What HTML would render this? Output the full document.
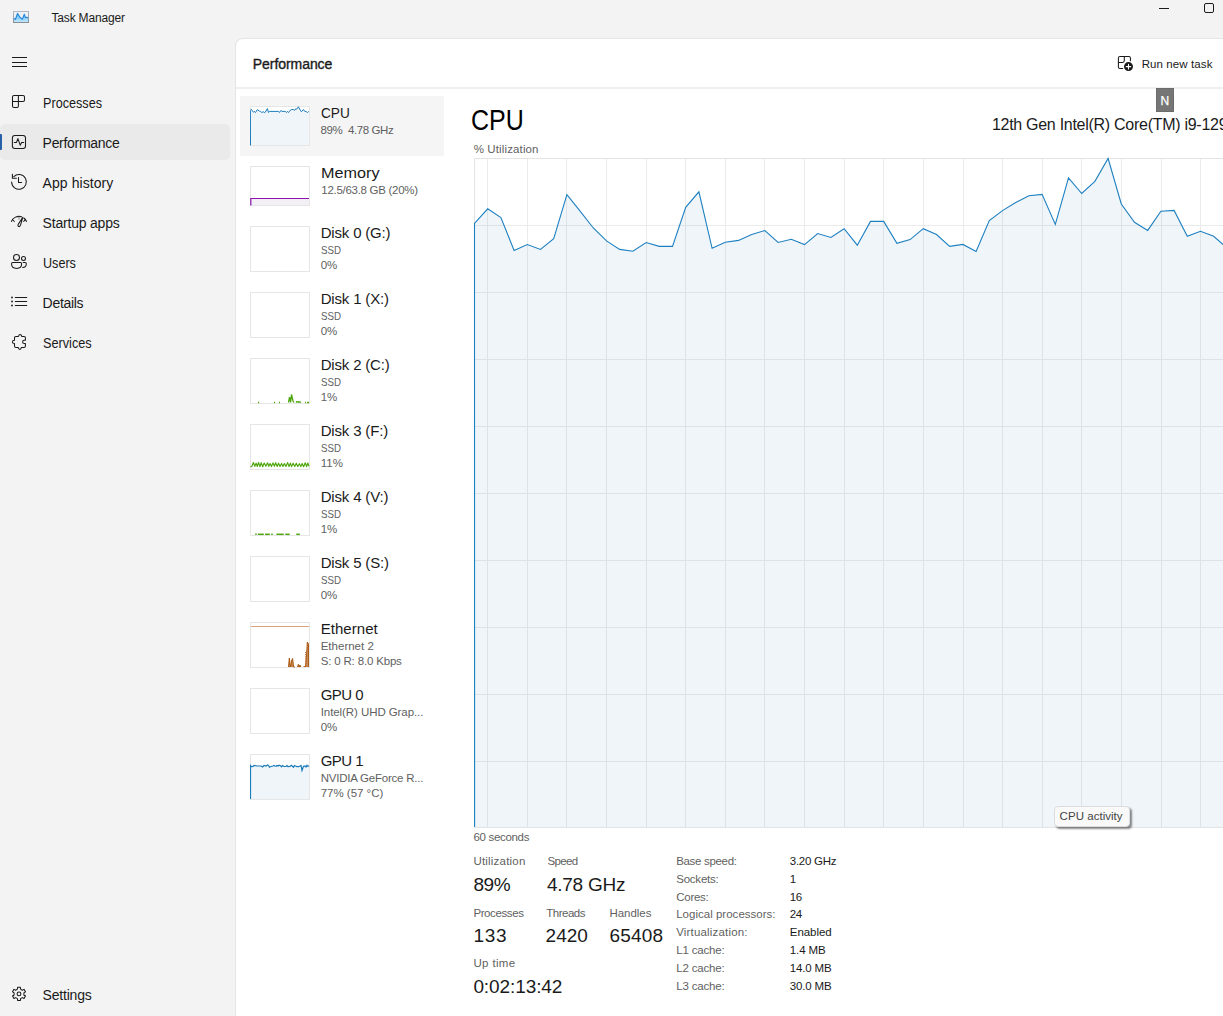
<!DOCTYPE html>
<html><head><meta charset="utf-8"><title>Task Manager</title>
<style>
*{margin:0;padding:0;box-sizing:border-box}
html,body{width:1223px;height:1016px;overflow:hidden;background:#f3f3f3;font-family:"Liberation Sans",sans-serif}
.abs{position:absolute}
.t{position:absolute;white-space:nowrap;line-height:normal}
</style></head><body>
<svg class="abs" style="left:13px;top:11px" width="16" height="12" viewBox="0 0 16 12">
<defs><linearGradient id="ig" x1="0" y1="0" x2="0" y2="1"><stop offset="0.2" stop-color="#6cbff2"/><stop offset="1" stop-color="#bfe8fd"/></linearGradient>
<linearGradient id="ib" x1="0" y1="0" x2="0" y2="1"><stop offset="0" stop-color="#b3bcc6"/><stop offset="1" stop-color="#868c93"/></linearGradient></defs>
<rect x="0" y="0" width="16" height="12" fill="url(#ib)"/>
<rect x="1" y="1" width="14" height="10" fill="#eef1f4"/>
<path d="M1,7.3 L2.4,8.5 L4.5,2.4 L6,4.8 L7.1,6.5 L9.4,8.2 L11.3,3.2 L12.3,6.4 L13.7,6.4 L15,6.7 L15,11 L1,11Z" fill="url(#ig)"/>
<path d="M1,7.3 L2.4,8.5 L4.5,2.4 L6,4.8 L7.1,6.5 L9.4,8.2 L11.3,3.2 L12.3,6.4 L13.7,6.4 L15,6.7" fill="none" stroke="#2587dc" stroke-width="1.1" stroke-linejoin="round"/>
</svg>
<div class="t" style="left:51.5px;top:11px;font-size:12px;color:#1a1a1a;letter-spacing:-0.178px;">Task Manager</div>
<div class="abs" style="left:1159px;top:8px;width:10px;height:1px;background:#1a1a1a"></div>
<div class="abs" style="left:1204px;top:3px;width:10px;height:10px;border:1px solid #1a1a1a;border-radius:2px"></div>
<div class="abs" style="left:11.5px;top:57px;width:15px;height:1px;background:#1a1a1a"></div><div class="abs" style="left:11.5px;top:61.5px;width:15px;height:1px;background:#1a1a1a"></div><div class="abs" style="left:11.5px;top:66px;width:15px;height:1px;background:#1a1a1a"></div>
<div class="abs" style="left:0;top:124px;width:230px;height:36px;background:#eaeaea;border-radius:5px"></div>
<div class="abs" style="left:0;top:134px;width:2px;height:16px;background:#275fa9;border-radius:0 1px 1px 0"></div>
<div class="t" style="left:42.6px;top:95px;font-size:14px;color:#1a1a1a;transform:scaleX(0.9029);transform-origin:0 0;">Processes</div>
<div class="t" style="left:42.6px;top:135px;font-size:14px;color:#1a1a1a;letter-spacing:-0.301px;">Performance</div>
<div class="t" style="left:42.6px;top:175px;font-size:14px;color:#1a1a1a;letter-spacing:0.068px;">App history</div>
<div class="t" style="left:42.6px;top:215px;font-size:14px;color:#1a1a1a;letter-spacing:-0.205px;">Startup apps</div>
<div class="t" style="left:42.6px;top:255px;font-size:14px;color:#1a1a1a;transform:scaleX(0.9002);transform-origin:0 0;">Users</div>
<div class="t" style="left:42.6px;top:295px;font-size:14px;color:#1a1a1a;letter-spacing:-0.297px;">Details</div>
<div class="t" style="left:42.6px;top:335px;font-size:14px;color:#1a1a1a;transform:scaleX(0.9074);transform-origin:0 0;">Services</div>
<div class="t" style="left:42.6px;top:987px;font-size:14px;color:#1a1a1a;letter-spacing:-0.197px;">Settings</div>
<svg class="abs" style="left:0;top:0" width="40" height="1016" viewBox="0 0 40 1016" fill="none" stroke="#1a1a1a" stroke-width="1.05" stroke-linecap="round" stroke-linejoin="round">
<path d="M12.5,97 Q12.5,95.4 14,95.4 H23 Q24.5,95.4 24.5,97 V100 Q24.5,101.4 23,101.4 H18.4 V106 Q18.4,107.5 17,107.5 H14 Q12.5,107.5 12.5,106 Z M18.4,95.4 V101.4 M12.5,101.4 H18.4"/>
<rect x="12.4" y="135.4" width="13.1" height="13" rx="2.4"/>
<path d="M14.3,142.4 H16.5 L17.9,138.6 L20.2,145.2 L21.6,142.4 H23.7"/>
<path d="M11.6,182 A7.4,7.4 0 1 0 13.8,176.6"/>
<path d="M12.4,174.3 V178.3 H16.4"/>
<path d="M18.5,177.4 V182.5 H21.6"/>
<path d="M11.4,221.4 A8.2,8.2 0 0 1 21.5,216.8 M23.8,218.0 A8.2,8.2 0 0 1 26.5,221.4"/>
<path d="M12.5,219.7 L14.3,221.5 M25.4,219.6 L23.7,221.5"/>
<path d="M19,217 V219.3" stroke="#888"/>
<path d="M22.8,217.3 L18.2,224.4 Q17.5,226.3 18.9,226.6 Q20.2,226.7 20.6,224.9 L22.8,217.3 Z"/>
<circle cx="16.5" cy="257.4" r="3.0"/>
<circle cx="23.5" cy="258.5" r="2.0"/>
<path d="M12.6,262.5 H20.6 Q21.6,262.5 21.6,263.6 V264.3 Q21.6,268.4 16.6,268.4 Q11.6,268.4 11.6,264.3 V263.6 Q11.6,262.5 12.6,262.5 Z"/>
<path d="M23.2,262.5 H25.2 Q26.3,262.5 26.3,263.8 Q26.3,267.5 22.6,267.5"/>
<path d="M15.3,297.5 H26.7 M15.3,301.5 H26.7 M15.3,305.5 H26.7"/>
<path d="M14.5,337.8 Q14.5,336.4 15.9,336.4 H18.3 L19.2,334.9 Q20.2,333.9 21.1,334.9 L21.9,336.4 H24 Q25.4,336.4 25.4,337.8 V340.3 H24.2 Q22.6,340.3 22.6,341.9 Q22.6,343.4 24.2,343.4 H25.4 V346 Q25.4,347.4 24,347.4 H21.6 L20.7,348.8 Q19.8,349.8 18.9,348.8 L18,347.4 H15.9 Q14.5,347.4 14.5,346 V343.4 Q12.4,343.4 12.4,341.9 Q12.4,340.3 14.5,340.3 Z"/>
<path d="M17.45,989.14 L17.59,987.25 L20.41,987.25 L20.55,989.14 L22.35,990.18 L24.05,989.35 L25.47,991.80 L23.89,992.86 L23.89,994.94 L25.47,996.00 L24.05,998.45 L22.35,997.62 L20.55,998.66 L20.41,1000.55 L17.59,1000.55 L17.45,998.66 L15.65,997.62 L13.95,998.45 L12.53,996.00 L14.11,994.94 L14.11,992.86 L12.53,991.80 L13.95,989.35 L15.65,990.18 Z"/>
<circle cx="19" cy="993.9" r="1.9"/>
</svg>
<svg class="abs" style="left:0;top:0" width="40" height="1016" viewBox="0 0 40 1016"><g fill="#1a1a1a"><circle cx="12" cy="297.5" r="0.9"/><circle cx="12" cy="301.5" r="0.9"/><circle cx="12" cy="305.5" r="0.9"/></g></svg>
<div class="abs" style="left:235px;top:38px;width:1000px;height:1000px;background:#fff;border-left:1px solid #e5e5e5;border-top:1px solid #e5e5e5;border-top-left-radius:8px"></div>
<div class="abs" style="left:236px;top:87px;width:1000px;height:2px;background:#efefef"></div>
<div class="t" style="left:252.8px;top:56px;font-size:14px;color:#1a1a1a;letter-spacing:-0.061px;-webkit-text-stroke:0.35px #1a1a1a;">Performance</div>
<svg class="abs" style="left:1110px;top:50px" width="30" height="25" viewBox="1110 50 30 25" fill="none" stroke="#1a1a1a" stroke-width="1.05" stroke-linecap="round" stroke-linejoin="round">
<path d="M1122.7,68.5 H1120 Q1118.4,68.5 1118.4,67 V58 Q1118.4,56.4 1120,56.4 H1129 Q1130.4,56.4 1130.4,58 V60.8"/>
<path d="M1124.3,56.4 V60.6 Q1124.3,62.4 1122.6,62.4 H1118.4"/>
<circle cx="1128.5" cy="66.6" r="4.5" fill="#1a1a1a" stroke="none"/>
<path d="M1126.2,66.6 H1130.8 M1128.5,64.3 V68.9" stroke="#fff"/>
</svg>
<div class="t" style="left:1141.7px;top:58px;font-size:11.5px;color:#1a1a1a;letter-spacing:0.096px;">Run new task</div>
<div class="abs" style="left:240px;top:96px;width:204px;height:60px;background:#f5f5f5"></div>
<svg class="abs" style="left:0;top:0" width="1223" height="1016" viewBox="0 0 1223 1016">
<line x1="474" y1="225.5" x2="1223" y2="225.5" stroke="#ebebeb" stroke-width="1"/>
<line x1="474" y1="292.5" x2="1223" y2="292.5" stroke="#ebebeb" stroke-width="1"/>
<line x1="474" y1="359.5" x2="1223" y2="359.5" stroke="#ebebeb" stroke-width="1"/>
<line x1="474" y1="426.5" x2="1223" y2="426.5" stroke="#ebebeb" stroke-width="1"/>
<line x1="474" y1="493.5" x2="1223" y2="493.5" stroke="#ebebeb" stroke-width="1"/>
<line x1="474" y1="560.5" x2="1223" y2="560.5" stroke="#ebebeb" stroke-width="1"/>
<line x1="474" y1="627.5" x2="1223" y2="627.5" stroke="#ebebeb" stroke-width="1"/>
<line x1="474" y1="694.5" x2="1223" y2="694.5" stroke="#ebebeb" stroke-width="1"/>
<line x1="474" y1="761.5" x2="1223" y2="761.5" stroke="#ebebeb" stroke-width="1"/>
<line x1="487.5" y1="158" x2="487.5" y2="827" stroke="#ebebeb" stroke-width="1"/>
<line x1="527.5" y1="158" x2="527.5" y2="827" stroke="#ebebeb" stroke-width="1"/>
<line x1="566.5" y1="158" x2="566.5" y2="827" stroke="#ebebeb" stroke-width="1"/>
<line x1="606.5" y1="158" x2="606.5" y2="827" stroke="#ebebeb" stroke-width="1"/>
<line x1="646.5" y1="158" x2="646.5" y2="827" stroke="#ebebeb" stroke-width="1"/>
<line x1="685.5" y1="158" x2="685.5" y2="827" stroke="#ebebeb" stroke-width="1"/>
<line x1="725.5" y1="158" x2="725.5" y2="827" stroke="#ebebeb" stroke-width="1"/>
<line x1="764.5" y1="158" x2="764.5" y2="827" stroke="#ebebeb" stroke-width="1"/>
<line x1="804.5" y1="158" x2="804.5" y2="827" stroke="#ebebeb" stroke-width="1"/>
<line x1="844.5" y1="158" x2="844.5" y2="827" stroke="#ebebeb" stroke-width="1"/>
<line x1="883.5" y1="158" x2="883.5" y2="827" stroke="#ebebeb" stroke-width="1"/>
<line x1="923.5" y1="158" x2="923.5" y2="827" stroke="#ebebeb" stroke-width="1"/>
<line x1="963.5" y1="158" x2="963.5" y2="827" stroke="#ebebeb" stroke-width="1"/>
<line x1="1002.5" y1="158" x2="1002.5" y2="827" stroke="#ebebeb" stroke-width="1"/>
<line x1="1042.5" y1="158" x2="1042.5" y2="827" stroke="#ebebeb" stroke-width="1"/>
<line x1="1081.5" y1="158" x2="1081.5" y2="827" stroke="#ebebeb" stroke-width="1"/>
<line x1="1121.5" y1="158" x2="1121.5" y2="827" stroke="#ebebeb" stroke-width="1"/>
<line x1="1161.5" y1="158" x2="1161.5" y2="827" stroke="#ebebeb" stroke-width="1"/>
<line x1="1200.5" y1="158" x2="1200.5" y2="827" stroke="#ebebeb" stroke-width="1"/>
<path d="M1223,158.5 H474.5 V827.5 H1223" fill="none" stroke="#e4e4e4"/>
<polygon points="474.5,827 474.5,223.4 487.7,208.8 500.9,217.5 514.1,250.5 527.3,244.6 540.5,249.4 553.7,238.6 566.9,194.7 580.1,211.1 593.3,228.0 606.5,240.9 619.7,249.4 632.9,251.3 646.1,242.5 659.3,246.4 672.5,246.4 685.7,207.4 698.9,191.8 712.1,248.3 725.3,242.3 738.5,240.4 751.7,234.5 764.9,230.5 778.1,242.5 791.3,239.3 804.5,244.6 817.7,233.5 830.9,237.5 844.1,228.7 857.3,245.2 870.5,221.4 883.7,221.4 896.9,243.3 910.1,239.6 923.3,228.7 936.5,234.5 949.7,246.4 962.9,244.4 976.1,251.4 989.3,220.6 1002.5,210.6 1015.7,202.5 1028.9,195.7 1042.1,194.4 1055.3,224.5 1068.5,177.9 1081.7,193.5 1094.9,181.3 1108.1,158.5 1121.3,204.0 1134.5,222.3 1147.7,230.4 1160.9,211.3 1174.1,210.4 1187.3,236.3 1200.5,231.3 1213.7,236.3 1226.9,248.0 1226.9,827" fill="rgba(5,88,172,0.06)"/>
<polyline points="474.6,827 474.5,223.4 487.7,208.8 500.9,217.5 514.1,250.5 527.3,244.6 540.5,249.4 553.7,238.6 566.9,194.7 580.1,211.1 593.3,228.0 606.5,240.9 619.7,249.4 632.9,251.3 646.1,242.5 659.3,246.4 672.5,246.4 685.7,207.4 698.9,191.8 712.1,248.3 725.3,242.3 738.5,240.4 751.7,234.5 764.9,230.5 778.1,242.5 791.3,239.3 804.5,244.6 817.7,233.5 830.9,237.5 844.1,228.7 857.3,245.2 870.5,221.4 883.7,221.4 896.9,243.3 910.1,239.6 923.3,228.7 936.5,234.5 949.7,246.4 962.9,244.4 976.1,251.4 989.3,220.6 1002.5,210.6 1015.7,202.5 1028.9,195.7 1042.1,194.4 1055.3,224.5 1068.5,177.9 1081.7,193.5 1094.9,181.3 1108.1,158.5 1121.3,204.0 1134.5,222.3 1147.7,230.4 1160.9,211.3 1174.1,210.4 1187.3,236.3 1200.5,231.3 1213.7,236.3 1226.9,248.0" fill="none" stroke="#1d80c0" stroke-width="1.1" stroke-linejoin="miter"/>
</svg><svg class="abs" style="left:250px;top:106px" width="60" height="40" viewBox="0 0 60 40"><rect x="0.5" y="0.5" width="59" height="39" fill="#fff" stroke="#e6e6e6"/><polygon points="0.5,39 0.4,4.3 1.3,3.3 3.5,6.3 4.3,5.4 5.5,6.5 7.4,3.6 9.3,5.1 10.5,5.4 11.8,6.5 13.2,5.7 14.3,6.5 15.2,6.3 17.4,2.6 18.5,6.5 19.4,5.4 28.5,5.4 29.4,6.5 30.8,4.5 32.1,5.4 35.2,5.4 36.6,6.5 37.4,5.4 38.5,6.5 39.9,4.6 41.6,3.5 43.3,3.5 44.7,4.3 45.8,2.6 46.6,3.2 48.5,0.8 49.7,3.2 51.3,5.7 53.5,3.6 54.4,5.1 56.3,5.7 57.4,6.5 58.8,5.4 59,39" fill="#f0f5fa"/><polyline points="0.5,39.5 0.4,4.3 1.3,3.3 3.5,6.3 4.3,5.4 5.5,6.5 7.4,3.6 9.3,5.1 10.5,5.4 11.8,6.5 13.2,5.7 14.3,6.5 15.2,6.3 17.4,2.6 18.5,6.5 19.4,5.4 28.5,5.4 29.4,6.5 30.8,4.5 32.1,5.4 35.2,5.4 36.6,6.5 37.4,5.4 38.5,6.5 39.9,4.6 41.6,3.5 43.3,3.5 44.7,4.3 45.8,2.6 46.6,3.2 48.5,0.8 49.7,3.2 51.3,5.7 53.5,3.6 54.4,5.1 56.3,5.7 57.4,6.5 58.8,5.4" fill="none" stroke="#1a7bbb" stroke-width="1"/></svg>
<div class="t" style="left:320.5px;top:103.5px;font-size:15px;color:#1a1a1a;transform:scaleX(0.9098);transform-origin:0 0;">CPU</div>
<div class="t" style="left:320.5px;top:124px;font-size:11.5px;color:#5f5f5f;letter-spacing:-0.350px;">89%</div>
<div class="t" style="left:348px;top:124px;font-size:11.5px;color:#5f5f5f;letter-spacing:-0.421px;">4.78 GHz</div>
<svg class="abs" style="left:250px;top:166px" width="60" height="40" viewBox="0 0 60 40"><rect x="0.5" y="0.5" width="59" height="39" fill="#fff" stroke="#e6e6e6"/><rect x="1" y="32.5" width="58" height="6.5" fill="#f2f0f4"/><polyline points="0.8,39.5 0.8,32.5 59,32.5" fill="none" stroke="#8b12ae" stroke-width="1.2"/></svg>
<div class="t" style="left:320.5px;top:163.5px;font-size:15px;color:#1a1a1a;transform:scaleX(1.0796);transform-origin:0 0;">Memory</div>
<div class="t" style="left:321.3px;top:184px;font-size:11.5px;color:#5f5f5f;letter-spacing:-0.285px;">12.5/63.8 GB (20%)</div>
<svg class="abs" style="left:250px;top:226px" width="60" height="46" viewBox="0 0 60 46"><rect x="0.5" y="0.5" width="59" height="45" fill="#fff" stroke="#e6e6e6"/></svg>
<div class="t" style="left:320.7px;top:224px;font-size:15px;color:#1a1a1a;letter-spacing:-0.179px;">Disk 0 (G:)</div>
<div class="t" style="left:320.7px;top:244px;font-size:11.5px;color:#5f5f5f;transform:scaleX(0.8454);transform-origin:0 0;">SSD</div>
<div class="t" style="left:320.7px;top:259px;font-size:11.5px;color:#5f5f5f;">0%</div>
<svg class="abs" style="left:250px;top:292px" width="60" height="46" viewBox="0 0 60 46"><rect x="0.5" y="0.5" width="59" height="45" fill="#fff" stroke="#e6e6e6"/></svg>
<div class="t" style="left:320.7px;top:290px;font-size:15px;color:#1a1a1a;letter-spacing:-0.175px;">Disk 1 (X:)</div>
<div class="t" style="left:320.7px;top:310px;font-size:11.5px;color:#5f5f5f;transform:scaleX(0.8454);transform-origin:0 0;">SSD</div>
<div class="t" style="left:320.7px;top:325px;font-size:11.5px;color:#5f5f5f;">0%</div>
<svg class="abs" style="left:250px;top:358px" width="60" height="46" viewBox="0 0 60 46"><rect x="0.5" y="0.5" width="59" height="45" fill="#fff" stroke="#e6e6e6"/><g fill="none" stroke="#4da60c" stroke-width="1.3"><path d="M8,44.5h1.2 M24,44.5h1 M29,44.5h1 M38.5,44.5 L39.5,39 L40.5,44.5 L41.5,36.5 L43,43 L44,44.5 M46,44.5 L47,43.5 L48,44 L50,44 L51,44.5 M55,44.5h1 M57,44.5h2"/></g></svg>
<div class="t" style="left:320.7px;top:356px;font-size:15px;color:#1a1a1a;letter-spacing:-0.177px;">Disk 2 (C:)</div>
<div class="t" style="left:320.7px;top:376px;font-size:11.5px;color:#5f5f5f;transform:scaleX(0.8454);transform-origin:0 0;">SSD</div>
<div class="t" style="left:320.7px;top:391px;font-size:11.5px;color:#5f5f5f;">1%</div>
<svg class="abs" style="left:250px;top:424px" width="60" height="46" viewBox="0 0 60 46"><rect x="0.5" y="0.5" width="59" height="45" fill="#fff" stroke="#e6e6e6"/><path d="M0.5,42.6 L1.86,42.4 L3.39,38.5 L4.86,42.4 L6.08,39.1 L7.30,42.5 L8.54,38.5 L9.95,42.6 L11.21,38.7 L12.73,42.7 L14.21,39.0 L15.90,42.3 L17.53,38.8 L18.80,42.3 L20.16,39.5 L21.45,42.5 L22.97,38.9 L24.44,42.3 L25.67,38.7 L27.21,42.5 L28.57,39.2 L30.00,42.4 L31.59,39.4 L32.91,42.5 L34.38,39.6 L35.94,42.4 L37.63,38.6 L39.04,42.6 L40.32,39.1 L41.54,42.6 L43.12,39.2 L44.76,42.4 L46.30,39.2 L47.79,42.5 L49.41,39.7 L50.85,42.6 L52.08,39.4 L53.61,42.7 L55.22,38.8 L56.61,42.6 L57.82,39.0 L59.00,42.3" fill="none" stroke="#4da60c" stroke-width="1.15" stroke-linejoin="round"/></svg>
<div class="t" style="left:320.7px;top:422px;font-size:15px;color:#1a1a1a;letter-spacing:-0.173px;">Disk 3 (F:)</div>
<div class="t" style="left:320.7px;top:442px;font-size:11.5px;color:#5f5f5f;transform:scaleX(0.8454);transform-origin:0 0;">SSD</div>
<div class="t" style="left:320.7px;top:457px;font-size:11.5px;color:#5f5f5f;">11%</div>
<svg class="abs" style="left:250px;top:490px" width="60" height="46" viewBox="0 0 60 46"><rect x="0.5" y="0.5" width="59" height="45" fill="#fff" stroke="#e6e6e6"/><g stroke="#4da60c" stroke-width="1.5"><line x1="5.2" y1="44.3" x2="6.7" y2="44.3"/><line x1="8" y1="44.3" x2="13.8" y2="44.3"/><line x1="15.1" y1="44.3" x2="19.8" y2="44.3"/><line x1="21.2" y1="44.3" x2="22.8" y2="44.3"/><line x1="26.4" y1="44.3" x2="33.7" y2="44.3"/><line x1="35.3" y1="44.3" x2="39.7" y2="44.3"/><line x1="46.3" y1="44.3" x2="49.8" y2="44.3"/></g></svg>
<div class="t" style="left:320.7px;top:488px;font-size:15px;color:#1a1a1a;letter-spacing:-0.174px;">Disk 4 (V:)</div>
<div class="t" style="left:320.7px;top:508px;font-size:11.5px;color:#5f5f5f;transform:scaleX(0.8454);transform-origin:0 0;">SSD</div>
<div class="t" style="left:320.7px;top:523px;font-size:11.5px;color:#5f5f5f;">1%</div>
<svg class="abs" style="left:250px;top:556px" width="60" height="46" viewBox="0 0 60 46"><rect x="0.5" y="0.5" width="59" height="45" fill="#fff" stroke="#e6e6e6"/></svg>
<div class="t" style="left:320.7px;top:554px;font-size:15px;color:#1a1a1a;letter-spacing:-0.175px;">Disk 5 (S:)</div>
<div class="t" style="left:320.7px;top:574px;font-size:11.5px;color:#5f5f5f;transform:scaleX(0.8454);transform-origin:0 0;">SSD</div>
<div class="t" style="left:320.7px;top:589px;font-size:11.5px;color:#5f5f5f;">0%</div>
<svg class="abs" style="left:250px;top:622px" width="60" height="46" viewBox="0 0 60 46"><rect x="0.5" y="0.5" width="59" height="45" fill="#fff" stroke="#e6e6e6"/><line x1="1" y1="4.5" x2="59" y2="4.5" stroke="#d8a27a" stroke-width="1"/><path d="M38.5,45 L39.3,36 L40.5,45 L41.8,38 L42.6,36.5 L43.6,45 L44.5,45 L45,45 M47.5,45 L48.4,42.3 L49.2,45 L50,43 L50.8,45 M53.5,45 L54.5,44 L55.5,45 L56.5,34 L57.3,20 L58.5,22 L58.5,45" fill="#c48a5c" stroke="#a74f01" stroke-width="0.9"/><line x1="55.5" y1="30" x2="55.5" y2="45" stroke="#c0602a" stroke-width="1" stroke-dasharray="1,1.2"/></svg>
<div class="t" style="left:320.7px;top:620px;font-size:15px;color:#1a1a1a;letter-spacing:0.054px;">Ethernet</div>
<div class="t" style="left:320.7px;top:640px;font-size:11.5px;color:#5f5f5f;letter-spacing:0.009px;">Ethernet 2</div>
<div class="t" style="left:320.7px;top:655px;font-size:11.5px;color:#5f5f5f;letter-spacing:-0.171px;">S: 0 R: 8.0 Kbps</div>
<svg class="abs" style="left:250px;top:688px" width="60" height="46" viewBox="0 0 60 46"><rect x="0.5" y="0.5" width="59" height="45" fill="#fff" stroke="#e6e6e6"/></svg>
<div class="t" style="left:320.7px;top:686px;font-size:15px;color:#1a1a1a;letter-spacing:-0.529px;">GPU 0</div>
<div class="t" style="left:320.7px;top:706px;font-size:11.5px;color:#5f5f5f;letter-spacing:-0.074px;">Intel(R) UHD Grap...</div>
<div class="t" style="left:320.7px;top:721px;font-size:11.5px;color:#5f5f5f;">0%</div>
<svg class="abs" style="left:250px;top:754px" width="60" height="46" viewBox="0 0 60 46"><rect x="0.5" y="0.5" width="59" height="45" fill="#fff" stroke="#e6e6e6"/><polygon points="0.5,45 0.5,11.5 1.5,12.6 3,12.5 4,11.3 7,12 11,12 12.5,13 14,11.5 16,12 17.5,11 18.5,11.5 19.5,13.2 21,12.5 23,12 24,11.5 25,12 26,12.3 27,11.5 28,12 29,11.2 30.5,11.8 31.5,12.8 32.5,11.5 34,12.5 36,12.5 37,11.5 38,12.5 40,12.3 41.5,11.3 42.5,12.3 43.5,13.2 44.5,11.5 45.5,12 47,12.6 48.5,12.6 50,12 51,11.5 52,16.5 53.5,12.3 55,12 56,13 57,11.3 58,12.3 59,11.8 59,45" fill="#f0f5fa"/><polyline points="0.5,45 0.5,11.5 1.5,12.6 3,12.5 4,11.3 7,12 11,12 12.5,13 14,11.5 16,12 17.5,11 18.5,11.5 19.5,13.2 21,12.5 23,12 24,11.5 25,12 26,12.3 27,11.5 28,12 29,11.2 30.5,11.8 31.5,12.8 32.5,11.5 34,12.5 36,12.5 37,11.5 38,12.5 40,12.3 41.5,11.3 42.5,12.3 43.5,13.2 44.5,11.5 45.5,12 47,12.6 48.5,12.6 50,12 51,11.5 52,16.5 53.5,12.3 55,12 56,13 57,11.3 58,12.3 59,11.8" fill="none" stroke="#1a7bbb" stroke-width="1.2"/></svg>
<div class="t" style="left:320.7px;top:752px;font-size:15px;color:#1a1a1a;letter-spacing:-0.529px;">GPU 1</div>
<div class="t" style="left:320.7px;top:772px;font-size:11.5px;color:#5f5f5f;letter-spacing:-0.221px;">NVIDIA GeForce R...</div>
<div class="t" style="left:320.7px;top:787px;font-size:11.5px;color:#5f5f5f;letter-spacing:-0.012px;">77% (57 °C)</div>
<div class="t" style="left:471.2px;top:104px;font-size:29px;color:#000;transform:scaleX(0.8625);transform-origin:0 0;">CPU</div>
<div class="t" style="left:991.9px;top:116px;font-size:16px;color:#1a1a1a;letter-spacing:-0.278px;">12th Gen Intel(R) Core(TM) i9-12900HK</div>
<div class="t" style="left:473.7px;top:143px;font-size:11.5px;color:#5f5f5f;letter-spacing:0.128px;">% Utilization</div>
<div class="t" style="left:473.4px;top:831px;font-size:11.5px;color:#5f5f5f;letter-spacing:-0.309px;">60 seconds</div>
<div class="t" style="left:473.4px;top:855px;font-size:11.5px;color:#5f5f5f;letter-spacing:0.204px;">Utilization</div>
<div class="t" style="left:547.4px;top:855px;font-size:11.5px;color:#5f5f5f;letter-spacing:-0.634px;">Speed</div>
<div class="t" style="left:473.4px;top:874px;font-size:19px;color:#1a1a1a;letter-spacing:-0.408px;">89%</div>
<div class="t" style="left:546.9px;top:874px;font-size:19px;color:#1a1a1a;letter-spacing:-0.250px;">4.78 GHz</div>
<div class="t" style="left:473.4px;top:906.5px;font-size:11.5px;color:#5f5f5f;letter-spacing:-0.396px;">Processes</div>
<div class="t" style="left:546.2px;top:906.5px;font-size:11.5px;color:#5f5f5f;letter-spacing:-0.479px;">Threads</div>
<div class="t" style="left:609.4px;top:906.5px;font-size:11.5px;color:#5f5f5f;letter-spacing:-0.031px;">Handles</div>
<div class="t" style="left:473.5px;top:925px;font-size:19px;color:#1a1a1a;letter-spacing:0.656px;">133</div>
<div class="t" style="left:545.6px;top:925px;font-size:19px;color:#1a1a1a;letter-spacing:-0.017px;">2420</div>
<div class="t" style="left:609.4px;top:925px;font-size:19px;color:#1a1a1a;letter-spacing:0.197px;">65408</div>
<div class="t" style="left:473.4px;top:957px;font-size:11.5px;color:#5f5f5f;letter-spacing:0.365px;">Up time</div>
<div class="t" style="left:473.4px;top:976px;font-size:19px;color:#1a1a1a;letter-spacing:-0.087px;">0:02:13:42</div>
<div class="t" style="left:676.2px;top:855.0px;font-size:11.5px;color:#5f5f5f;letter-spacing:-0.319px;">Base speed:</div>
<div class="t" style="left:789.8px;top:855.0px;font-size:11.5px;color:#1a1a1a;letter-spacing:-0.278px;">3.20 GHz</div>
<div class="t" style="left:676.2px;top:872.8px;font-size:11.5px;color:#5f5f5f;letter-spacing:-0.211px;">Sockets:</div>
<div class="t" style="left:789.8px;top:872.8px;font-size:11.5px;color:#1a1a1a;">1</div>
<div class="t" style="left:676.2px;top:890.6px;font-size:11.5px;color:#5f5f5f;letter-spacing:-0.252px;">Cores:</div>
<div class="t" style="left:789.8px;top:890.6px;font-size:11.5px;color:#1a1a1a;letter-spacing:-0.381px;">16</div>
<div class="t" style="left:676.2px;top:908.4px;font-size:11.5px;color:#5f5f5f;letter-spacing:0.015px;">Logical processors:</div>
<div class="t" style="left:789.8px;top:908.4px;font-size:11.5px;color:#1a1a1a;letter-spacing:-0.381px;">24</div>
<div class="t" style="left:676.2px;top:926.2px;font-size:11.5px;color:#5f5f5f;letter-spacing:0.178px;">Virtualization:</div>
<div class="t" style="left:789.8px;top:926.2px;font-size:11.5px;color:#1a1a1a;letter-spacing:-0.065px;">Enabled</div>
<div class="t" style="left:676.2px;top:944.0px;font-size:11.5px;color:#5f5f5f;letter-spacing:-0.166px;">L1 cache:</div>
<div class="t" style="left:789.8px;top:944.0px;font-size:11.5px;color:#1a1a1a;letter-spacing:-0.121px;">1.4 MB</div>
<div class="t" style="left:676.2px;top:961.8px;font-size:11.5px;color:#5f5f5f;letter-spacing:-0.166px;">L2 cache:</div>
<div class="t" style="left:789.8px;top:961.8px;font-size:11.5px;color:#1a1a1a;letter-spacing:-0.166px;">14.0 MB</div>
<div class="t" style="left:676.2px;top:979.6px;font-size:11.5px;color:#5f5f5f;letter-spacing:-0.166px;">L3 cache:</div>
<div class="t" style="left:789.8px;top:979.6px;font-size:11.5px;color:#1a1a1a;letter-spacing:-0.166px;">30.0 MB</div>
<div class="abs" style="left:1156px;top:88px;width:18px;height:24px;background:#767676;border:1px solid #6c6c6c"></div>
<div class="t" style="left:1160.4px;top:94px;font-size:12px;color:#fff;-webkit-text-stroke:0.25px #fff;">N</div>
<div class="abs" style="left:1054px;top:806px;width:76px;height:21px;background:#f9f9f9;border:1px solid #dcdcdc;border-radius:4px;box-shadow:2px 2px 2px rgba(0,0,0,0.45)"></div>
<div class="t" style="left:1059.6px;top:810px;font-size:11.5px;color:#444;letter-spacing:0.034px;">CPU activity</div>
</body></html>
